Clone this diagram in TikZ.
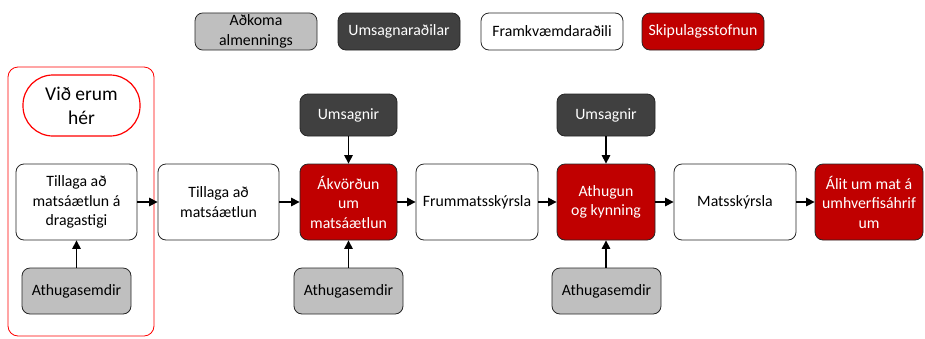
\documentclass[tikz,border=0pt]{standalone}
\usepackage{fontspec}
\setmainfont{Carlito}
\usepackage{xcolor}
\usetikzlibrary{shapes,arrows.meta,positioning,calc}
\definecolor{sred}{HTML}{C00000}
\definecolor{sdark}{HTML}{404040}
\definecolor{sgray}{HTML}{BFBFBF}
\tikzset{
  box/.style={draw=black!85, line width=0.8pt, rounded corners=8pt, align=center,
    inner sep=2pt, font=\fontsize{15.8}{19.5}\selectfont},
  almenn/.style={box, fill=sgray},
  umsogn/.style={box, fill=sdark, text=white},
  framkv/.style={box, fill=white},
  stofnun/.style={box, fill=sred, text=white},
  arr/.style={line width=1.2pt, -{Triangle[length=8.5pt,width=8.5pt]}}
}

\begin{document}
\begin{tikzpicture}[x=1pt,y=-1pt]
    \useasboundingbox (0,0) rectangle (925,338);
    % skyringar
    \node[almenn, minimum width=122pt, minimum height=37pt] (leg1) at (256,31.5) {Aðkoma\\almennings};
    \node[umsogn, minimum width=122pt, minimum height=37pt] (leg2) at (399,31.5) {Umsagnaraðilar};
    \node[framkv, minimum width=142pt, minimum height=37pt] (leg3) at (552,31.5) {Framkvæmdaraðili};
    \node[stofnun, minimum width=122pt, minimum height=37pt] (leg4) at (703,31.5) {Skipulagsstofnun};

    \draw[red, line width=0.8pt, rounded corners=10pt] (8,67) rectangle (154,336);
    \node[draw=red, line width=1.2pt, rounded corners=30pt, align=center, fill=white,
      minimum width=117pt, minimum height=61pt, font=\fontsize{19.5}{24}\selectfont] (her) at (81.5,105.5) {Við erum\\hér};

    % ferlid
    \node[framkv, minimum width=121pt, minimum height=76pt] (b1) at (76.5,202) {Tillaga að\\matsáætlun á\\dragastigi};
    \node[framkv, minimum width=121pt, minimum height=76pt] (b2) at (218.5,202) {Tillaga að\\matsáætlun};
    \node[stofnun, minimum width=97pt, minimum height=76pt] (b3) at (348.5,202) {Ákvörðun\\um\\matsáætlun};
    \node[framkv, minimum width=122pt, minimum height=76pt] (b4) at (477,202) {Frummatsskýrsla};
    \node[stofnun, minimum width=98pt, minimum height=76pt] (b5) at (606,202) {Athugun\\og kynning};
    \node[framkv, minimum width=122pt, minimum height=76pt] (b6) at (735,202) {Matsskýrsla};
    \node[stofnun, minimum width=108pt, minimum height=76pt] (b7) at (869,202) {Álit um mat á\\umhverfisáhrif\\um};

    \node[umsogn, minimum width=97pt, minimum height=42pt] (u1) at (348.5,115) {Umsagnir};
    \node[umsogn, minimum width=98pt, minimum height=42pt] (u2) at (606,115) {Umsagnir};

    \node[almenn, minimum width=109pt, minimum height=46pt] (a1) at (76.5,291) {Athugasemdir};
    \node[almenn, minimum width=109pt, minimum height=46pt] (a2) at (348.5,291) {Athugasemdir};
    \node[almenn, minimum width=109pt, minimum height=46pt] (a3) at (606.5,291) {Athugasemdir};

    \foreach \i/\j in {b1/b2,b2/b3,b3/b4,b4/b5,b5/b6,b6/b7}
        \draw[arr] (\i) -- (\j);
    \draw[arr] (u1) -- (b3);
    \draw[arr] (u2) -- (b5);
    \draw[arr] (a1) -- (b1);
    \draw[arr] (a2) -- (b3);
    \draw[arr] (a3.north -| b5) -- (b5);
\end{tikzpicture}
\end{document}
